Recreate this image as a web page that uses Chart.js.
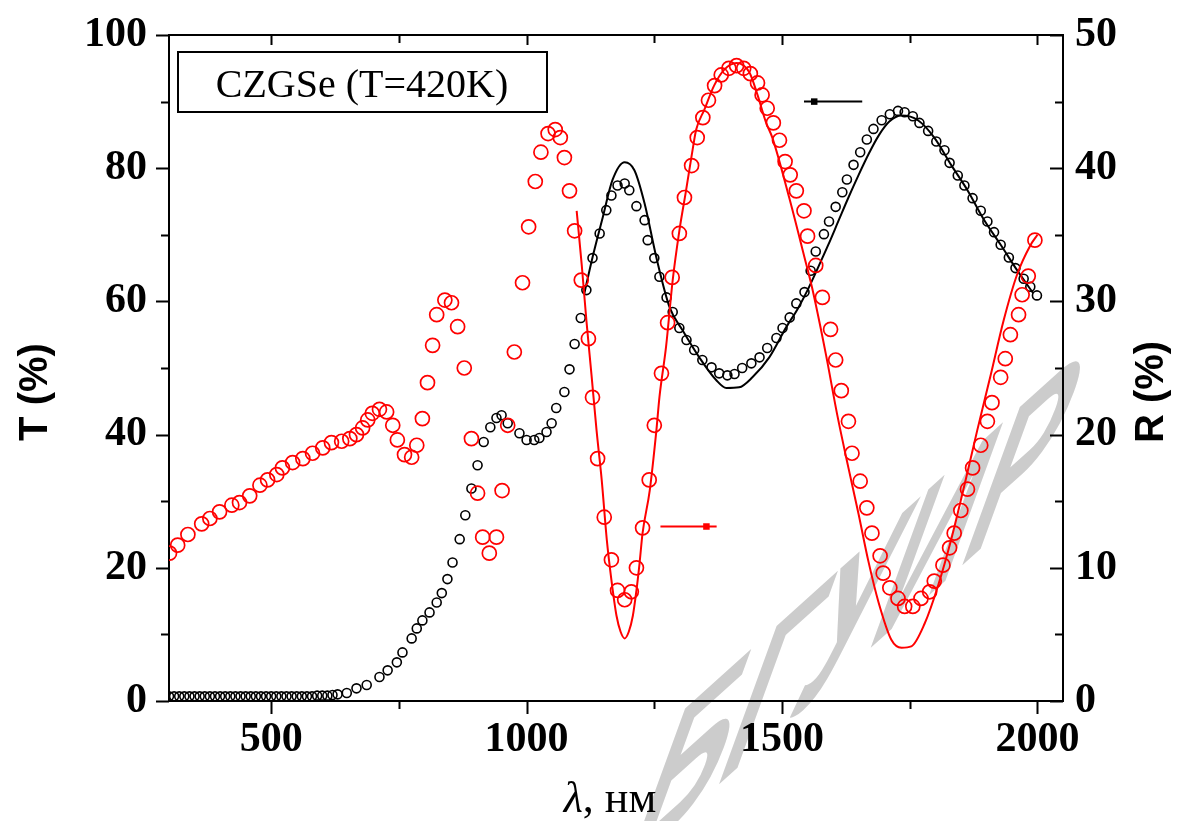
<!DOCTYPE html>
<html><head><meta charset="utf-8">
<script src="https://cdn.jsdelivr.net/npm/chart.js@4.4.1/dist/chart.umd.min.js"></script>
<style>html,body{margin:0;padding:0;background:#fff;overflow:hidden}</style>
</head><body>
<canvas id="c" width="1185" height="821"></canvas>
<script>
// ---------- data ----------
// Experimental transmission T (%) — black open symbols (left axis)
const tExpX = [300,310,320,330,340,350,360,370,380,390,400,410,420,430,440,450,460,470,480,490,500,510,520,530,540,550,560,570,580,590,600,610,620,630,
  648,667,687,712,728,746,757,775,785,796,810,824,834,845,855,869,880,892,904,916,929,941,951,963,986,1000,1015,1025,1039,1049,1058,1074,1084,1094,1106,1117,1129,1143,1156,1166,1178,1192,1201,1215,1231,1237,1250,1260,1274,1286,1299,1313,1328,1344,1362,1377,1393,1407,1422,1440,1456,1471,1489,1501,1515,1528,1544,
  1556,1566,1582,1592,1605,1618,1627,1640,1653,1666,1679,1695,1711,1727,1740,1756,1769,1786,1802,1818,1828,1844,1857,1873,1889,1902,1915,1928,1944,1957,1973,1986,1999];
const tExpY = [0.7,0.7,0.7,0.7,0.7,0.7,0.7,0.7,0.7,0.7,0.7,0.7,0.7,0.7,0.7,0.7,0.7,0.7,0.7,0.7,0.7,0.7,0.7,0.7,0.7,0.7,0.7,0.7,0.7,0.8,0.8,0.8,0.9,1.0,
  1.2,1.9,2.4,3.6,4.6,5.8,7.3,9.4,10.9,12.1,13.3,14.8,16.2,18.3,20.8,24.3,27.9,31.9,35.4,38.9,41.1,42.5,42.9,41.7,40.2,39.2,39.2,39.5,40.4,41.7,44.0,46.4,49.8,53.6,57.5,61.7,66.5,70.2,73.7,75.9,77.4,77.7,76.7,74.3,72.2,69.2,66.5,63.7,60.6,58.4,56.0,54.2,52.7,51.2,50.1,49.2,48.9,49.1,50.0,50.7,51.6,53.0,54.5,56.0,57.6,59.7,61.4,
  64.6,67.5,70.1,72.0,74.2,76.4,78.3,80.5,82.4,84.3,85.9,87.2,88.1,88.6,88.4,87.8,86.8,85.6,84.0,82.7,80.8,78.9,77.4,75.5,73.6,72.0,70.4,68.5,66.6,65.0,63.4,62.2,60.9];

// Calculated transmission T (%) — black line
const tCalcX = [1113,1129,1149,1168,1192,1211,1231,1254,1280,1305,1338,1371,1391,1416,1442,1475,1508,1530,1550,1570,1590,1610,1630,1650,1670,1690,1710,1734,1766,1798,1831,1863,1895,1928,1960,1992];
const tCalcY = [61.2,66.6,72.6,78.2,80.9,79.7,74.7,66.6,59.1,55.7,51.6,48.2,47.0,47.1,48.6,51.6,56.1,58.8,61.7,65.0,68.4,72.0,75.6,79.0,82.2,85.0,87.0,87.9,87.2,84.6,80.5,76.7,72.3,68.5,64.7,61.2];

// Experimental reflection R (%) — red open circles (right axis)
const rExpX = [301,317,337,364,380,399,423,438,458,478,493,511,522,542,562,581,601,618,638,654,667,679,689,698,712,726,738,747,761,775,785,796,806,816,824,840,853,865,878,892,904,914,927,941,952,963,976,992,1004,1017,1028,1042,1056,1066,1074,1084,1094,1107,1121,1129,1139,1152,1166,1178,1192,1205,1215,1227,1240,1250,1264,1276,1285,1299,1309,1323,1334,1345,1356,1368,1381,1396,1411,1425,1438,1452,1461,1471,1483,1495,1506,1516,1528,1543,1550,1566,1579,1595,1605,1616,1630,1637,1653,1666,1676,1692,1698,1711,1727,1740,1756,1772,1789,1798,1815,1828,1837,1850,1863,1873,1889,1902,1911,1928,1937,1947,1963,1970,1982,1995];
const rExpY = [11.1,11.7,12.5,13.3,13.7,14.2,14.7,14.9,15.4,16.2,16.6,17.0,17.5,17.9,18.2,18.6,19.0,19.4,19.5,19.7,20.0,20.5,21.1,21.6,21.9,21.7,20.7,19.6,18.5,18.3,19.2,21.2,23.9,26.7,29.0,30.1,29.9,28.1,25.0,19.7,15.6,12.3,11.1,12.3,15.8,20.7,26.2,31.4,35.6,39.0,41.2,42.6,42.9,42.3,40.8,38.3,35.3,31.6,27.2,22.8,18.2,13.8,10.6,8.3,7.6,8.2,10.0,13.0,16.6,20.7,24.6,28.4,31.8,35.1,37.8,40.2,42.3,43.8,45.1,46.2,47.0,47.5,47.7,47.5,47.1,46.4,45.5,44.5,43.4,42.1,40.5,39.5,38.3,36.8,34.9,32.7,30.3,27.9,25.6,23.3,21.0,18.6,16.5,14.5,12.6,10.9,9.6,8.5,7.7,7.1,7.1,7.7,8.2,9.0,10.2,11.5,12.6,14.3,15.9,17.5,19.2,21.0,22.4,24.3,25.7,27.5,29.0,30.5,31.9,34.6];

// Calculated reflection R (%) — red line
const rCalcX = [1098,1108,1117,1127,1137,1147,1157,1166,1176,1184,1192,1200,1208,1215,1221,1227,1241,1254,1260,1273,1286,1299,1312,1325,1332,1348,1367,1387,1411,1436,1452,1469,1481,1514,1544,1559,1586,1608,1630,1650,1669,1689,1714,1734,1753,1779,1805,1831,1857,1882,1908,1934,1960,1986,2000];
const rCalcY = [36.8,32.7,28.6,24.5,20.3,16.6,12.1,9.1,6.4,5.2,4.7,5.2,6.4,8.3,10.3,12.6,15.8,20.3,22.8,26.6,31.6,35.3,38.3,41.4,42.9,44.4,46.2,47.4,47.9,47.2,45.5,43.4,42.3,37.8,33.3,31.0,26.0,21.5,17.5,14.0,10.5,7.4,4.6,4.0,4.1,5.8,8.6,12.1,16.2,20.3,24.4,28.6,32.0,34.2,35.0];

// Axis indicator arrows: [xStart, xEnd, level, squareX]
const arrowT = [1543, 1657, 90, 1563];     // points to T axis (left)
const arrowR = [1262, 1372, 13.1, 1352];   // points to R axis (right)

// Axis ranges and tick labels
const xRange = [300, 2050];
const tRange = [0, 100];
const rRange = [0, 50];
const xTicks = [500, 1000, 1500, 2000];
const xMinorTicks = [750, 1250, 1750];
const tTicks = [0, 20, 40, 60, 80, 100];
const tMinorTicks = [10, 30, 50, 70, 90];
const rTicks = [0, 10, 20, 30, 40, 50];
const rMinorTicks = [5, 15, 25, 35, 45];

// Texts
const boxLabel = 'CZGSe (T=420K)';
const xTitleSym = 'λ';
const xTitleUnit = ', нм';
const tTitle = 'T (%)';
const rTitle = 'R (%)';
const watermark = 'БГУИР';

// ---------- build ----------
const pts = (xs, ys) => xs.map((x, i) => ({x, y: ys[i]}));
const SERIF = "'Liberation Serif','Times New Roman',serif";
const SANS = "'Liberation Sans',Arial,sans-serif";

const frame = {
  id: 'frame',
  beforeDraw(chart) {
    const ctx = chart.ctx;
    ctx.save();
    ctx.fillStyle = '#fff';
    ctx.fillRect(0, 0, chart.width, chart.height);
    // watermark
    const a = -42 * Math.PI / 180, b = 20 * Math.PI / 180, sx = 0.7;
    ctx.setTransform(sx * Math.cos(a), sx * Math.sin(a), -Math.sin(b), Math.cos(b), 852, 622);
    ctx.fillStyle = '#cccccc';
    ctx.font = "bold 245px " + SANS;
    ctx.textAlign = 'center';
    ctx.textBaseline = 'middle';
    ctx.fillText(watermark, 0, 0);
    ctx.restore();
  },
  afterDraw(chart) {
    const ctx = chart.ctx;
    const {left, right, top, bottom} = chart.chartArea;
    const xs = chart.scales.x, yT = chart.scales.yT, yR = chart.scales.yR;
    const px = v => Math.round(xs.getPixelForValue(v)) + 0.5;
    const pT = v => Math.round(yT.getPixelForValue(v)) + 0.5;
    const pR = v => Math.round(yR.getPixelForValue(v)) + 0.5;
    ctx.save();
    ctx.strokeStyle = '#000';
    ctx.lineWidth = 2;
    ctx.beginPath();
    ctx.moveTo(left - 1, top); ctx.lineTo(right + 1, top);
    xTicks.forEach(v => { const p = px(v); ctx.moveTo(p, bottom); ctx.lineTo(p, bottom + 13); ctx.moveTo(p, top); ctx.lineTo(p, top + 10); });
    xMinorTicks.forEach(v => { const p = px(v); ctx.moveTo(p, bottom); ctx.lineTo(p, bottom + 8); ctx.moveTo(p, top); ctx.lineTo(p, top + 8); });
    tTicks.forEach(v => { const p = pT(v); ctx.moveTo(left, p); ctx.lineTo(left - 13, p); });
    tMinorTicks.forEach(v => { const p = pT(v); ctx.moveTo(left, p); ctx.lineTo(left - 8, p); });
    rTicks.forEach(v => { const p = pR(v); ctx.moveTo(right, p); ctx.lineTo(right - 13, p); });
    rMinorTicks.forEach(v => { const p = pR(v); ctx.moveTo(right, p); ctx.lineTo(right - 8, p); });
    ctx.stroke();

    // label box
    ctx.lineWidth = 2;
    ctx.strokeRect(178, 52, 369, 60);
    ctx.fillStyle = '#000';
    ctx.font = "40px " + SERIF;
    ctx.textAlign = 'center';
    ctx.textBaseline = 'alphabetic';
    ctx.fillText(boxLabel, 362, 97);

    // x title
    ctx.font = "italic 44px " + SERIF;
    const w1 = ctx.measureText(xTitleSym).width;
    ctx.font = "44px " + SERIF;
    const w2 = ctx.measureText(xTitleUnit).width;
    const x0 = 610 - (w1 + w2) / 2;
    ctx.textAlign = 'left';
    ctx.font = "italic 44px " + SERIF;
    ctx.fillText(xTitleSym, x0, 812);
    ctx.font = "44px " + SERIF;
    ctx.fillText(xTitleUnit, x0 + w1, 812);

    // y titles
    ctx.font = "bold 40px " + SANS;
    ctx.textAlign = 'center';
    ctx.textBaseline = 'middle';
    ctx.save(); ctx.translate(36, 392); ctx.rotate(-Math.PI / 2); ctx.fillText(tTitle, 0, 0); ctx.restore();
    ctx.save(); ctx.translate(1152, 392); ctx.rotate(-Math.PI / 2); ctx.fillText(rTitle, 0, 0); ctx.restore();
    ctx.restore();
  }
};

const tickFont = {family: SERIF, weight: 'bold', size: 42};
const axisBase = {
  grid: {display: true, drawOnChartArea: false, drawTicks: false},
  border: {display: true, color: '#000', width: 2},
};
const fixTicks = list => (s => { s.ticks = list.map(v => ({value: v})); });

new Chart(document.getElementById('c'), {
  type: 'scatter',
  data: {
    datasets: [
      {label: 'T exp', data: pts(tExpX, tExpY), yAxisID: 'yT', showLine: false, pointStyle: 'circle', pointRadius: 4.5, borderColor: '#000', backgroundColor: 'rgba(0,0,0,0)', borderWidth: 1.6, order: 2},
      {label: 'R exp', data: pts(rExpX, rExpY), yAxisID: 'yR', showLine: false, pointStyle: 'circle', pointRadius: 7, borderColor: '#ff0000', backgroundColor: 'rgba(0,0,0,0)', borderWidth: 1.7, order: 1},
      {label: 'T calc', data: pts(tCalcX, tCalcY), yAxisID: 'yT', showLine: true, pointRadius: 0, borderColor: '#000', borderWidth: 2, cubicInterpolationMode: 'monotone', order: 3},
      {label: 'R calc', data: pts(rCalcX, rCalcY), yAxisID: 'yR', showLine: true, pointRadius: 0, borderColor: '#ff0000', borderWidth: 2, cubicInterpolationMode: 'monotone', order: 0},
      {label: 'arrow T', data: [{x: arrowT[0], y: arrowT[2]}, {x: arrowT[1], y: arrowT[2]}], yAxisID: 'yT', showLine: true, pointRadius: 0, borderColor: '#000', borderWidth: 2},
      {label: 'arrow T mark', data: [{x: arrowT[3], y: arrowT[2]}], yAxisID: 'yT', pointStyle: 'rect', pointRadius: 4.6, backgroundColor: '#000', borderColor: '#000', borderWidth: 0},
      {label: 'arrow R', data: [{x: arrowR[0], y: arrowR[2]}, {x: arrowR[1], y: arrowR[2]}], yAxisID: 'yR', showLine: true, pointRadius: 0, borderColor: '#ff0000', borderWidth: 2},
      {label: 'arrow R mark', data: [{x: arrowR[3], y: arrowR[2]}], yAxisID: 'yR', pointStyle: 'rect', pointRadius: 4.6, backgroundColor: '#ff0000', borderColor: '#ff0000', borderWidth: 0},
    ]
  },
  options: {
    responsive: false,
    devicePixelRatio: 1,
    animation: false,
    layout: {padding: {top: 35, left: 0, right: 0, bottom: 0}},
    plugins: {legend: {display: false}, tooltip: {enabled: false}},
    scales: {
      x: Object.assign({}, axisBase, {
        type: 'linear', position: 'bottom', min: xRange[0], max: xRange[1],
        afterBuildTicks: fixTicks(xTicks),
        ticks: {font: tickFont, color: '#000', padding: 14, maxRotation: 0, autoSkip: false, callback: v => String(v)},
        afterFit: s => { s.height = 120; s.paddingLeft = 0; s.paddingRight = 0; }
      }),
      yT: Object.assign({}, axisBase, {
        type: 'linear', position: 'left', min: tRange[0], max: tRange[1],
        afterBuildTicks: fixTicks(tTicks),
        ticks: {font: tickFont, color: '#000', padding: 22, callback: v => String(v)},
        afterFit: s => { s.width = 169; s.paddingTop = 0; s.paddingBottom = 0; }
      }),
      yR: Object.assign({}, axisBase, {
        type: 'linear', position: 'right', min: rRange[0], max: rRange[1],
        afterBuildTicks: fixTicks(rTicks),
        ticks: {font: tickFont, color: '#000', padding: 12, callback: v => String(v)},
        afterFit: s => { s.width = 122; s.paddingTop = 0; s.paddingBottom = 0; }
      })
    }
  },
  plugins: [frame]
});
</script>
</body></html>
